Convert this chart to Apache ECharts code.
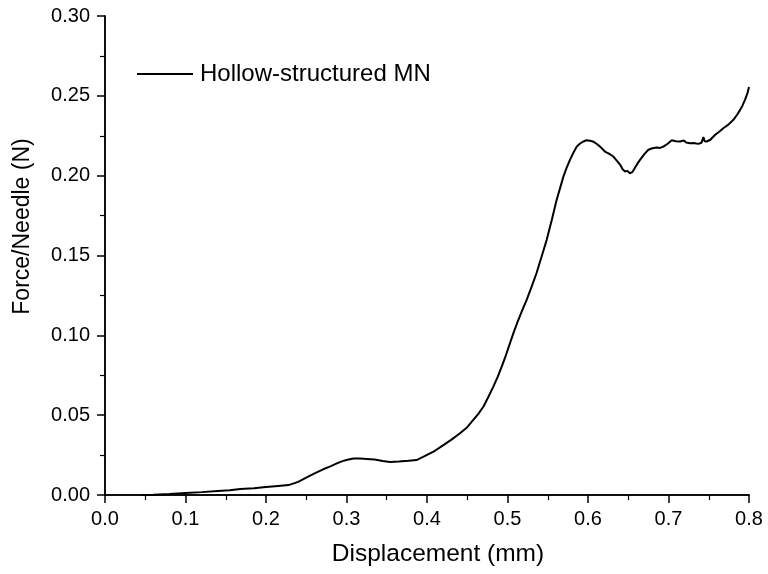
<!DOCTYPE html>
<html>
<head>
<meta charset="utf-8">
<script src="https://cdn.jsdelivr.net/npm/echarts@6/dist/echarts.min.js"></script>
<style>
  html, body { margin: 0; padding: 0; background: #fff; }
  #chart { width: 768px; height: 574px; }
</style>
</head>
<body>
<div id="chart"></div>
<script>
// Force per needle versus displacement for the hollow-structured microneedle
const seriesName = 'Hollow-structured MN';

const displacement = [
  0.045, 0.06, 0.08, 0.10, 0.12, 0.14, 0.155, 0.168, 0.185, 0.20,
  0.215, 0.228, 0.24, 0.2505, 0.261, 0.271, 0.28, 0.288, 0.295, 0.300,
  0.3085, 0.317, 0.325, 0.335, 0.345, 0.354, 0.365, 0.377, 0.387, 0.397,
  0.408, 0.418, 0.43, 0.441, 0.45, 0.4575, 0.464, 0.47, 0.476, 0.4824,
  0.4878, 0.4928, 0.498, 0.503, 0.508, 0.5134, 0.5185, 0.5238, 0.530, 0.536,
  0.5425, 0.5487, 0.555, 0.561, 0.5655, 0.5694, 0.5735, 0.5776, 0.582, 0.586,
  0.590, 0.5942, 0.598, 0.6025, 0.607, 0.611, 0.615, 0.621, 0.626, 0.6315,
  0.636, 0.640, 0.643, 0.646, 0.649, 0.652, 0.655, 0.658, 0.661, 0.6646,
  0.670, 0.675, 0.680, 0.6853, 0.6895, 0.6936, 0.699, 0.704, 0.709, 0.7143,
  0.719, 0.722, 0.7267, 0.731, 0.737, 0.741, 0.7433, 0.745, 0.7475, 0.752,
  0.758, 0.763, 0.768, 0.774, 0.7806, 0.785, 0.789, 0.792, 0.795, 0.798,
  0.800
];

const forcePerNeedle = [
  0.0000, 0.0002, 0.0006, 0.0012, 0.0018, 0.0025, 0.0030, 0.0037, 0.0043, 0.0050,
  0.0057, 0.0062, 0.0082, 0.0111, 0.0137, 0.0161, 0.0179, 0.0198, 0.0212, 0.0219,
  0.0228, 0.0228, 0.0226, 0.0222, 0.0213, 0.0207, 0.0210, 0.0214, 0.0219, 0.0243,
  0.0271, 0.0305, 0.0345, 0.0387, 0.0425, 0.0470, 0.0510, 0.0553, 0.0612, 0.0679,
  0.0740, 0.0804, 0.0875, 0.0950, 0.1023, 0.1096, 0.1160, 0.1222, 0.1305, 0.1389,
  0.1495, 0.1598, 0.1722, 0.1848, 0.1925, 0.1994, 0.2050, 0.2099, 0.2145, 0.2182,
  0.2201, 0.2214, 0.2222, 0.2219, 0.2212, 0.2198, 0.2182, 0.2151, 0.2138, 0.2120,
  0.2092, 0.2068, 0.2040, 0.2026, 0.2030, 0.2015, 0.2022, 0.2047, 0.2072, 0.2099,
  0.2135, 0.2162, 0.2172, 0.2176, 0.2174, 0.2182, 0.2200, 0.2222, 0.2215, 0.2214,
  0.2220, 0.2208, 0.2203, 0.2205, 0.2199, 0.2206, 0.2241, 0.2215, 0.2214, 0.2225,
  0.2256, 0.2275, 0.2297, 0.2318, 0.2350, 0.2380, 0.2412, 0.2440, 0.2475, 0.2515,
  0.2555
];

const points = displacement.map((x, i) => [x, forcePerNeedle[i]]);

const font = '"Liberation Sans", Arial, sans-serif';
const black = '#000';

const chart = echarts.init(document.getElementById('chart'), null, { renderer: 'canvas' });

chart.setOption({
  backgroundColor: '#fff',
  animation: false,
  grid: { left: 105, right: 19, top: 16, bottom: 79 },
  legend: {
    data: [seriesName],
    left: 132,
    top: 57,
    icon: 'rect',
    itemWidth: 56,
    itemHeight: 2,
    itemGap: 10,
    textStyle: { fontFamily: font, fontSize: 24, color: black, padding: [0, 0, 0, 2] }
  },
  xAxis: [{
    type: 'value',
    min: 0, max: 0.8, interval: 0.1,
    name: 'Displacement (mm)',
    nameLocation: 'middle',
    nameGap: 47,
    nameTextStyle: { fontFamily: font, fontSize: 24.5, color: black, padding: [0, 0, 0, 22] },
    axisLine: { lineStyle: { color: black, width: 1.5 } },
    axisTick: { inside: false, length: 8, lineStyle: { color: black, width: 1.5 } },
    minorTick: { show: true, splitNumber: 2, length: 5, lineStyle: { color: black, width: 1.2 } },
    axisLabel: { fontFamily: font, fontSize: 20, color: black, margin: 14,
      formatter: v => v.toFixed(1) },
    splitLine: { show: false }
  }, {
    type: 'value', position: 'top', min: 0, max: 0.8,
    axisLine: { show: true, lineStyle: { color: black, width: 1.5 } },
    axisTick: { show: false }, axisLabel: { show: false }, splitLine: { show: false }
  }],
  yAxis: [{
    type: 'value',
    min: 0, max: 0.3, interval: 0.05,
    name: 'Force/Needle (N)',
    nameLocation: 'middle',
    nameGap: 71,
    nameTextStyle: { fontFamily: font, fontSize: 23, color: black, padding: [0, 0, 0, 58] },
    axisLine: { show: true, lineStyle: { color: black, width: 1.5 } },
    axisTick: { show: true, inside: false, length: 8, lineStyle: { color: black, width: 1.5 } },
    minorTick: { show: true, splitNumber: 2, length: 5, lineStyle: { color: black, width: 1.2 } },
    axisLabel: { fontFamily: font, fontSize: 20, color: black, margin: 15,
      formatter: v => v.toFixed(2) },
    splitLine: { show: false }
  }, {
    type: 'value', position: 'right', min: 0, max: 0.3,
    axisLine: { show: true, lineStyle: { color: black, width: 1.5 } },
    axisTick: { show: false }, axisLabel: { show: false }, splitLine: { show: false }
  }],
  series: [{
    name: seriesName,
    type: 'line',
    xAxisIndex: 0,
    yAxisIndex: 0,
    data: points,
    symbol: 'none',
    smooth: false,
    lineStyle: { color: black, width: 2 },
    itemStyle: { color: black }
  }]
});
</script>
</body>
</html>
